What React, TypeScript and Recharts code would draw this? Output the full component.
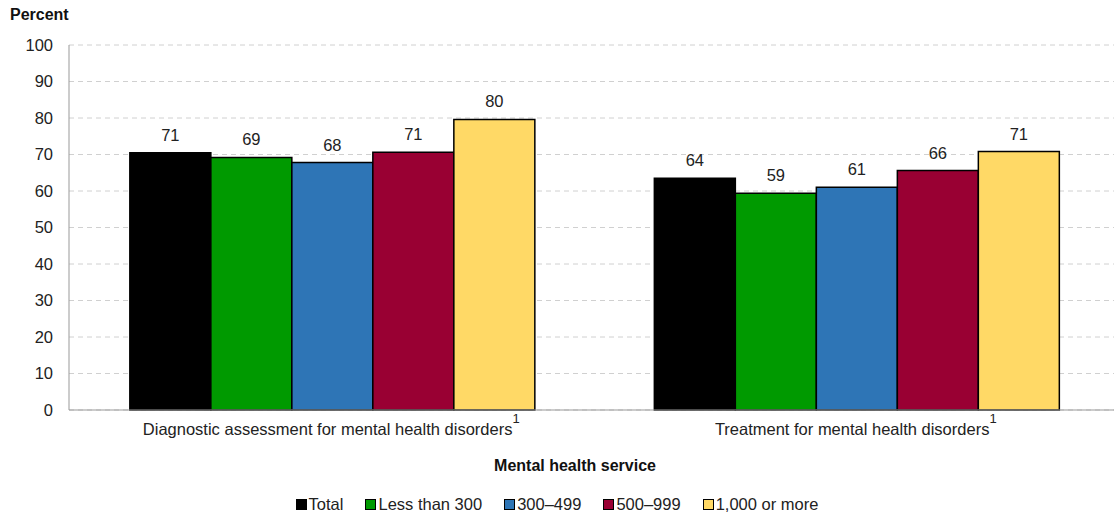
import React from "react";
import { BarChart, Bar, XAxis, YAxis, CartesianGrid, LabelList } from "recharts";

const categories = ["Diagnostic assessment for mental health disorders", "Treatment for mental health disorders"];
const totalValues = [70.5, 63.5];
const lessThan300Values = [69.2, 59.4];
const from300to499Values = [67.8, 61.0];
const from500to999Values = [70.6, 65.6];
const over1000Values = [79.6, 70.8];
const yTicks = [0, 10, 20, 30, 40, 50, 60, 70, 80, 90, 100];

const series = [
  { key: "total", name: "Total", color: "#000000" },
  { key: "lt300", name: "Less than 300", color: "#009a00" },
  { key: "r300", name: "300\u2013499", color: "#2e75b6" },
  { key: "r500", name: "500\u2013999", color: "#990033" },
  { key: "r1000", name: "1,000 or more", color: "#ffd966" },
];

const data = categories.map((c, i) => ({
  category: c,
  total: totalValues[i],
  lt300: lessThan300Values[i],
  r300: from300to499Values[i],
  r500: from500to999Values[i],
  r1000: over1000Values[i],
}));

const font = "'Liberation Sans', Arial, sans-serif";

function CategoryTick({ x, y, payload }: any) {
  return (
    <text x={x} y={y + 17} textAnchor="middle" fontSize={16.5} fill="#222" fontFamily={font}>
      {payload.value}
      <tspan dy={-12} fontSize={13}>1</tspan>
    </text>
  );
}

export default function App() {
  return (
    <div style={{ position: "absolute", left: 0, top: 0, width: 1114, height: 516, overflow: "hidden", background: "#fff", fontFamily: font }}>
      <div style={{ position: "absolute", left: 10, top: 6, fontSize: 16, fontWeight: 700, color: "#111" }}>Percent</div>
      <BarChart
        width={1118}
        height={516}
        data={data}
        margin={{ top: 45, right: 0, left: 0, bottom: 70 }}
        barCategoryGap="11.6%"
        barGap={0}
      >
        <CartesianGrid vertical={false} stroke="#d0d0d0" strokeDasharray="5 4" />
        <XAxis
          dataKey="category"
          height={36}
          tickLine={false}
          axisLine={{ stroke: "#999" }}
          tick={<CategoryTick />}
          interval={0}
        />
        <YAxis
          width={69}
          domain={[0, 100]}
          ticks={yTicks}
          tickLine={false}
          axisLine={{ stroke: "#999" }}
          tickMargin={10}
          tick={{ fontSize: 16.5, fill: "#222", fontFamily: font }}
        />
        {series.map((s) => (
          <Bar key={s.key} dataKey={s.key} name={s.name} fill={s.color} stroke="#000" strokeWidth={1.5} isAnimationActive={false}>
            <LabelList
              dataKey={s.key}
              position="top"
              offset={12}
              formatter={(v: any) => Math.round(Number(v))}
              style={{ fontSize: 16.5, fill: "#222", fontFamily: font }}
            />
          </Bar>
        ))}
      </BarChart>
      <div style={{ position: "absolute", left: 0, width: 1150, top: 457, textAlign: "center", fontSize: 16, fontWeight: 700, color: "#111" }}>
        Mental health service
      </div>
      <div style={{ position: "absolute", left: 0, width: 1114, top: 495, display: "flex", justifyContent: "center", gap: 22, fontSize: 16.5, color: "#222" }}>
        {series.map((s) => (
          <span key={s.key} style={{ display: "flex", alignItems: "center" }}>
            <span style={{ display: "inline-block", width: 9, height: 9, background: s.color, border: "1px solid #000", marginRight: 2 }} />
            {s.name}
          </span>
        ))}
      </div>
    </div>
  );
}
